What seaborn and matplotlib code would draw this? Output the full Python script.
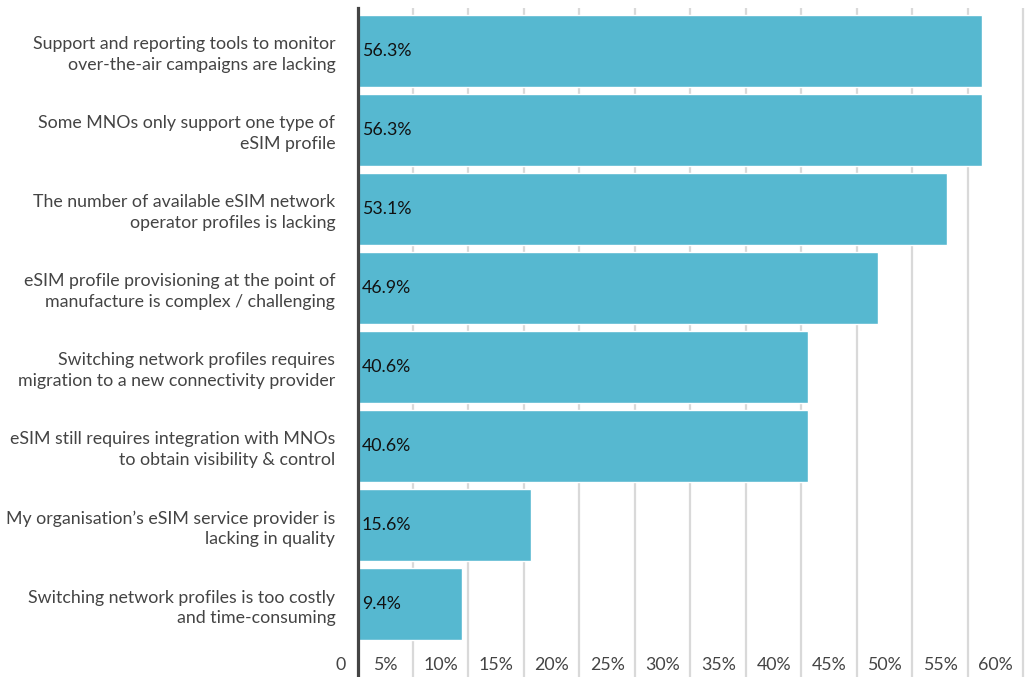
import matplotlib
matplotlib.use("Agg")
import matplotlib.pyplot as plt
import seaborn as sns
import pandas as pd

categories = [
    "Support and reporting tools to monitor\nover-the-air campaigns are lacking",
    "Some MNOs only support one type of\neSIM profile",
    "The number of available eSIM network\noperator profiles is lacking",
    "eSIM profile provisioning at the point of\nmanufacture is complex / challenging",
    "Switching network profiles requires\nmigration to a new connectivity provider",
    "eSIM still requires integration with MNOs\nto obtain visibility & control",
    "My organisation\u2019s eSIM service provider is\nlacking in quality",
    "Switching network profiles is too costly\nand time-consuming",
]
values = [56.3, 56.3, 53.1, 46.9, 40.6, 40.6, 15.6, 9.4]
grid_steps = [5, 10, 15, 20, 25, 30, 35, 40, 45, 50, 55, 60]
tick_labels = ["5%", "10%", "15%", "20%", "25%", "30%", "35%", "40%",
               "45%", "50%", "55%", "60%"]

sns.set_style("white")
plt.rcParams["font.family"] = ["Lato", "DejaVu Sans"]

df = pd.DataFrame({"category": categories, "value": values})

W, H = 1030, 677
fig = plt.figure(figsize=(W / 100, H / 100), dpi=100)
left_px, top_px = 357.5, 8
ax = fig.add_axes([left_px / W, 0, 1 - left_px / W, (H - top_px) / H])

sns.barplot(data=df, y="category", x="value", orient="h", color="#56b8d0",
            saturation=1, width=0.91, ax=ax, zorder=3)

ax.set_xlim(0, 60.6)
ax.set_ylim(7.924, -0.544)

# vertical gridlines at each 5% step
ax.set_xticks(grid_steps)
ax.set_xticklabels([])
ax.tick_params(axis="x", length=0)
ax.grid(axis="x", color="#d9d9d9", linewidth=1.6, zorder=0)
ax.grid(axis="y", visible=False)
ax.set_axisbelow(True)

fs = 12.8
# percentage labels sit centred in each 5% band, inside the plot area
label_color = "#444444"
for step, lab in zip(grid_steps, tick_labels):
    ax.text(step - 2.5, 7.77, lab, ha="center", va="center",
            fontsize=fs, color=label_color)
ax.text(-1.5, 7.77, "0", ha="center", va="center", fontsize=fs,
        color=label_color, clip_on=False)

# category labels
ax.set_yticks(range(len(categories)))
ax.set_yticklabels(categories, fontsize=fs, color=label_color,
                   linespacing=1.35)
ax.tick_params(axis="y", length=0, pad=16)

# value labels at the base of each bar
for i, v in enumerate(values):
    ax.text(0.4, i, f"{v:.1f}%", ha="left", va="center", fontsize=fs,
            color="#111111", zorder=4)

ax.set_xlabel("")
ax.set_ylabel("")
for side in ["top", "right", "bottom"]:
    ax.spines[side].set_visible(False)
ax.spines["left"].set_color("#444444")
ax.spines["left"].set_linewidth(2.3)
ax.spines["left"].set_zorder(5)

fig.savefig("out.png", dpi=100)
